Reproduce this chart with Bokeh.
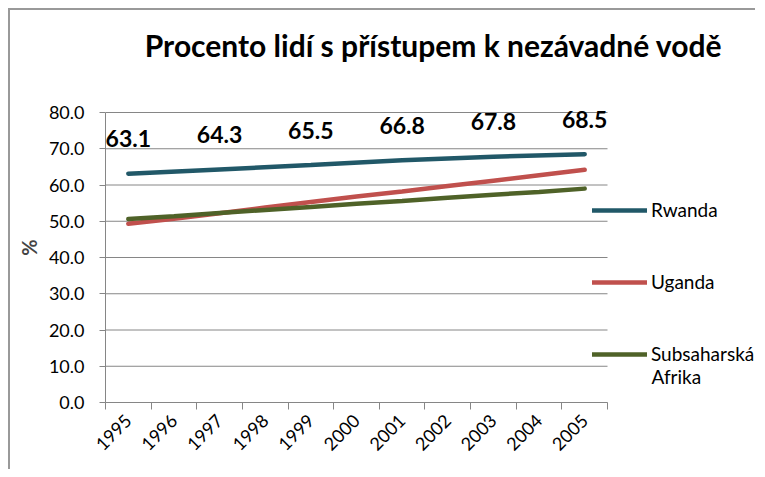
import math
from bokeh.plotting import figure
from bokeh.models import (ColumnDataSource, Range1d, FixedTicker, NumeralTickFormatter,
                          Legend, LegendItem, LabelSet, Label)
from bokeh.embed import file_html
from bokeh.resources import INLINE
from bokeh.core.properties import value

# ---- data ----
title_text = "Procento lidí s přístupem k nezávadné vodě"
years = [1995, 1996, 1997, 1998, 1999, 2000, 2001, 2002, 2003, 2004, 2005]
year_labels = [str(y) for y in years]
rwanda_years = [1995, 1997, 1999, 2001, 2003, 2005]
rwanda = [63.1, 64.3, 65.5, 66.8, 67.8, 68.5]
rwanda_labels = ["63.1", "64.3", "65.5", "66.8", "67.8", "68.5"]
uganda = [49.3, 50.7, 52.2, 53.8, 55.3, 56.8, 58.2, 59.7, 61.2, 62.7, 64.2]
ssa = [50.6, 51.4, 52.3, 53.1, 53.9, 54.8, 55.6, 56.5, 57.3, 58.1, 59.0]
y_ticks = [0, 10, 20, 30, 40, 50, 60, 70, 80]
series_names = ["Rwanda", "Uganda", "Subsaharská", "Afrika"]
y_label = "%"

FONT = "Lato"
GRAY = "#868686"
C_RW = "#215868"
C_UG = "#C0504D"
C_SSA = "#4F6228"

# layout (pixels): the frame also holds the legend,
# the axes are limited to the data area
AXIS_W, FRAME_W = 502, 652
AXIS_H, FRAME_H = 290, 310
x0 = years[0] - 0.5
x1 = years[-1] + 0.5
x_end = x0 + (x1 - x0) * FRAME_W / AXIS_W
y_end = y_ticks[-1] * FRAME_H / AXIS_H

p = figure(width=747, height=461, output_backend="svg", toolbar_location=None,
           x_range=Range1d(x0, x_end), y_range=Range1d(y_ticks[0], y_end),
           min_border_left=95, min_border_right=0, min_border_top=82, min_border_bottom=69)
p.styles = {"border-top": "2px solid #999999", "border-left": "2px solid #999999",
            "margin-top": "8px", "margin-left": "8px"}
p.outline_line_color = None
p.background_fill_color = "white"
p.border_fill_color = "white"

# x axis: labels at category centres, ticks at boundaries
p.xaxis.bounds = (x0, x1)
p.xaxis.ticker = FixedTicker(ticks=years, minor_ticks=[y - 0.5 for y in years] + [x1])
p.xaxis.major_label_overrides = dict(zip(years, year_labels))
p.xaxis.major_tick_in = 0
p.xaxis.major_tick_out = 0
p.xaxis.minor_tick_in = 0
p.xaxis.minor_tick_out = 7
p.xaxis.minor_tick_line_color = GRAY
p.xaxis.axis_line_color = GRAY
p.xaxis.major_label_orientation = math.pi / 4
p.xaxis.major_label_standoff = 8
p.xaxis.major_label_text_font = FONT
p.xaxis.major_label_text_font_size = "18px"
p.xaxis.major_label_text_color = "black"

p.yaxis.bounds = (y_ticks[0], y_ticks[-1])
p.yaxis.ticker = FixedTicker(ticks=y_ticks)
p.yaxis.formatter = NumeralTickFormatter(format="0.0")
p.yaxis.major_tick_in = 0
p.yaxis.major_tick_out = 6
p.yaxis.minor_tick_line_color = None
p.yaxis.major_tick_line_color = GRAY
p.yaxis.axis_line_color = GRAY
p.yaxis.major_label_standoff = 15
p.yaxis.major_label_text_font = FONT
p.yaxis.major_label_text_font_size = "18px"
p.yaxis.major_label_text_color = "black"
p.yaxis.axis_label = y_label
p.yaxis.axis_label_text_font = FONT
p.yaxis.axis_label_text_font_style = "bold"
p.yaxis.axis_label_text_font_size = "20px"
p.yaxis.axis_label_standoff = 5

p.xgrid.grid_line_color = None
p.ygrid.grid_line_color = None

# horizontal grid lines limited to the data area
p.segment(x0=[x0] * len(y_ticks), y0=y_ticks, x1=[x1] * len(y_ticks), y1=y_ticks,
          line_color=GRAY, line_width=1)

src_rw = ColumnDataSource(dict(x=rwanda_years, y=rwanda, t=rwanda_labels))
src_all = ColumnDataSource(dict(x=years, ug=uganda, ssa=ssa))

r_ug = p.line("x", "ug", source=src_all, line_color=C_UG, line_width=4.5, line_cap="round")
r_ssa = p.line("x", "ssa", source=src_all, line_color=C_SSA, line_width=4.5, line_cap="round")
r_rw = p.line("x", "y", source=src_rw, line_color=C_RW, line_width=4.5, line_cap="round")

labels = LabelSet(x="x", y="y", text="t", source=src_rw, y_offset=35,
                  text_align="center", text_baseline="middle",
                  text_font=value(FONT), text_font_style="bold", text_font_size="23px",
                  text_color="black")
p.add_layout(labels)

legend = Legend(items=[LegendItem(label=series_names[0], renderers=[r_rw]),
                       LegendItem(label=series_names[1], renderers=[r_ug]),
                       LegendItem(label=series_names[2], renderers=[r_ssa])],
                location=(487, 37), orientation="vertical",
                glyph_width=55, glyph_height=22, label_height=22, label_standoff=4,
                spacing=49, padding=0, margin=0,
                border_line_color=None, background_fill_alpha=0,
                label_text_font=FONT, label_text_font_size="19px", label_text_color="black")
p.add_layout(legend, "center")

p.add_layout(Label(x=546, y=26, x_units="screen", y_units="screen", text=series_names[3],
                   text_font=FONT, text_font_size="19px", text_baseline="middle",
                   text_align="left", text_color="black"))

p.add_layout(Label(x=328, y=48, x_units="screen", y_units="screen", text=title_text,
                   text_font=FONT, text_font_size="30px", text_font_style="bold",
                   text_align="center", text_baseline="alphabetic", text_color="black"),
             "above")

open("out.html", "w").write(file_html(p, INLINE))
